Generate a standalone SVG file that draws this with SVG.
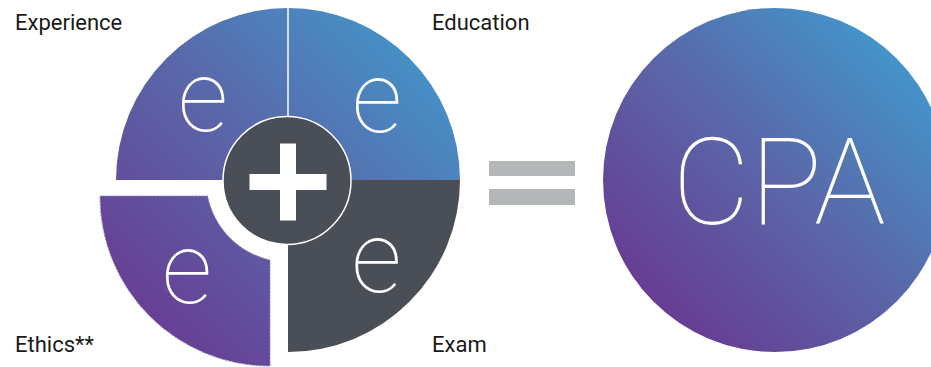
<svg xmlns="http://www.w3.org/2000/svg" width="931" height="367" viewBox="0 0 931 367">
  <style>
    .label { font-family: Roboto, "Liberation Sans", sans-serif; font-size: 22px; fill: #1a1a1a; }
    .e { font-family: Roboto, "Liberation Sans", sans-serif; font-weight: 100; font-size: 100px; fill: #ffffff; text-anchor: middle; }
    .cpa { font-family: Roboto, "Liberation Sans", sans-serif; font-weight: 100; font-size: 120px; fill: #ffffff; text-anchor: middle; }
    .dark { fill: #4a4e56; }
    .bar { fill: #b3b7b7; }
  </style>
  <defs>
    <linearGradient id="pieGrad" gradientUnits="userSpaceOnUse" x1="116" y1="352" x2="460" y2="8">
      <stop offset="0" stop-color="#6a358f"/>
      <stop offset="0.5" stop-color="#5a67a9"/>
      <stop offset="1" stop-color="#3ea0d2"/>
    </linearGradient>
    <linearGradient id="cpaGrad" gradientUnits="userSpaceOnUse" x1="640" y1="330" x2="935" y2="35">
      <stop offset="0" stop-color="#69368f"/>
      <stop offset="0.5" stop-color="#5a67a9"/>
      <stop offset="1" stop-color="#3ea0d2"/>
    </linearGradient>
  </defs>
  <rect width="931" height="367" fill="#ffffff"/>

  <g id="experience">
    <path d="M288,180 L116,180 A172,172 0 0 1 288,8 Z" fill="url(#pieGrad)"/>
    <text class="e" x="203" y="131">e</text>
    <text class="label" x="15" y="30">Experience</text>
  </g>
  <g id="education">
    <path d="M288,180 L288,8 A172,172 0 0 1 460,180 Z" fill="url(#pieGrad)"/>
    <text class="e" x="377" y="132">e</text>
    <text class="label" x="432" y="30">Education</text>
  </g>
  <g id="exam">
    <path class="dark" d="M288,180 L460,180 A172,172 0 0 1 288,352 Z"/>
    <text class="e" x="376.5" y="292">e</text>
    <text class="label" x="432" y="352">Exam</text>
  </g>
  <g id="ethics">
    <path d="M207.6,196 L100,196 A170,170 0 0 0 270,366 L270,260 A82,82 0 0 1 207.6,196 Z" fill="url(#pieGrad)" stroke="#9a80bd" stroke-width="1" stroke-dasharray="2 1.5"/>
    <text class="e" x="187" y="303">e</text>
    <text class="label" x="15" y="352">Ethics**</text>
  </g>
  <g id="divider">
    <line x1="288" y1="8" x2="288" y2="118" stroke="#ffffff" stroke-width="1.5"/>
  </g>
  <g id="plus">
    <circle class="dark" cx="287" cy="180.5" r="64" stroke="#ffffff" stroke-width="1.5"/>
    <rect x="249.5" y="174" width="77" height="16" fill="#ffffff"/>
    <rect x="280" y="143.5" width="16" height="77" fill="#ffffff"/>
  </g>
  <g id="connectors">
    <g id="equals">
      <rect class="bar" x="489" y="161" width="86" height="15"/>
      <rect class="bar" x="489" y="189" width="86" height="16"/>
    </g>
  </g>
  <g id="cpa">
    <circle cx="775" cy="180" r="172" fill="url(#cpaGrad)"/>
    <text class="cpa" x="779" y="224">CPA</text>
  </g>
</svg>
